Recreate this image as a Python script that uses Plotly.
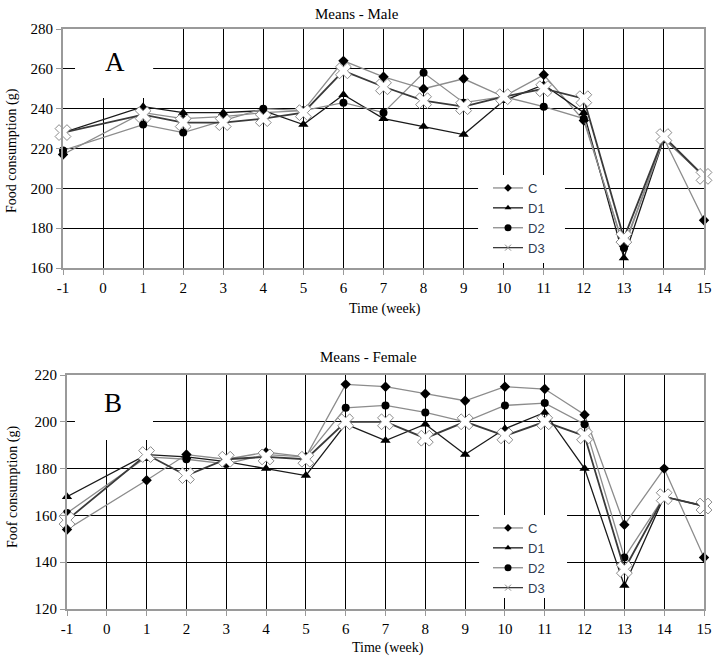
import plotly.graph_objects as go

# ---------------- data ----------------
weeks = [-1, 1, 2, 3, 4, 5, 6, 7, 8, 9, 10, 11, 12, 13, 14, 15]
week_ticks = list(range(-1, 16))
week_labels = [str(w) for w in week_ticks]
series_names = ["C", "D1", "D2", "D3"]

male_C  = [217, 238, 235, 236, 238, 239, 264, 256, 250, 255, 246, 257, 234, 171, 225, 184]
male_D1 = [228, 241, 238, 238, 239, 232, 247, 235, 231, 227, 244, 252, 238, 165, 225, 206]
male_D2 = [219, 232, 228, 234, 240, 239, 243, 238, 258, 243, 246, 241, 235, 170, 225, 206]
male_D3 = [228, 237, 233, 233, 235, 238, 259, 251, 244, 241, 246, 250, 245, 175, 226, 206]

female_C  = [154, 175, 186, 184, 187, 185, 216, 215, 212, 209, 215, 214, 203, 156, 180, 142]
female_D1 = [168, 186, 185, 183, 180, 177, 199, 192, 199, 186, 197, 204, 180, 130, 168, 164]
female_D2 = [161, 185, 184, 182, 186, 185, 206, 207, 204, 200, 207, 208, 199, 142, 168, 164]
female_D3 = [158, 186, 177, 184, 185, 184, 200, 200, 193, 200, 194, 200, 194, 137, 168, 164]

male_yticks = [160, 180, 200, 220, 240, 260, 280]
female_yticks = [120, 140, 160, 180, 200, 220]

# ---------------- styles ----------------
FONT = "Liberation Serif"
styles = {
    "C":  dict(line=dict(color="#8c8c8c", width=1.3),
               marker=dict(symbol="diamond", size=8, color="black")),
    "D1": dict(line=dict(color="#1a1a1a", width=1.3),
               marker=dict(symbol="triangle-up", size=9, color="black")),
    "D2": dict(line=dict(color="#8c8c8c", width=1.3),
               marker=dict(symbol="circle", size=8, color="black")),
    "D3": dict(line=dict(color="#3a3a3a", width=1.8),
               marker=dict(symbol="x", size=14, color="white",
                           line=dict(color="#8a8a8a", width=1))),
}
legend_markers = {
    "C":  dict(symbol="diamond", size=6, color="black"),
    "D1": dict(symbol="triangle-up", size=6, color="black"),
    "D2": dict(symbol="circle", size=7, color="black"),
    "D3": dict(symbol="x-thin", size=6, color="#8a8a8a", line=dict(color="#8a8a8a", width=1)),
}

fig = go.Figure()

male = [male_C, male_D1, male_D2, male_D3]
female = [female_C, female_D1, female_D2, female_D3]

for name, vals in zip(series_names, male):
    st = styles[name]
    fig.add_trace(go.Scatter(x=weeks, y=vals, mode="lines+markers", name=name,
                             line=st["line"], marker=st["marker"], showlegend=False,
                             xaxis="x", yaxis="y", cliponaxis=False))
for name, vals in zip(series_names, female):
    st = styles[name]
    fig.add_trace(go.Scatter(x=weeks, y=vals, mode="lines+markers", name=name,
                             line=st["line"], marker=st["marker"], showlegend=False,
                             xaxis="x2", yaxis="y2", cliponaxis=False))

# legend-only entries (small symbols as in reference)
for lg, xa, ya in [("legend", "x", "y"), ("legend2", "x2", "y2")]:
    for name in series_names:
        fig.add_trace(go.Scatter(x=[None], y=[None], mode="lines+markers", name=name,
                                 line=dict(color=styles[name]["line"]["color"], width=1.3),
                                 marker=legend_markers[name], legend=lg,
                                 xaxis=xa, yaxis=ya))

W, H = 717, 663
def px(x): return x / W
def py(y): return 1 - y / H

axis_common = dict(
    showgrid=True, gridcolor="black", gridwidth=1.3,
    showline=True, linecolor="#9a9a9a", linewidth=2, mirror=True,
    ticks="outside", ticklen=5, tickcolor="#9a9a9a", tickwidth=1,
    tickfont=dict(family=FONT, size=15, color="black"),
    zeroline=False, automargin=False,
)

legend_font = dict(family="Liberation Sans", size=13, color="#2f3b4f")

def white_box(xr, yr, x0, x1, y0, y1):
    return dict(type="rect", xref=xr, yref=yr, x0=x0, x1=x1, y0=y0, y1=y1,
                fillcolor="white", line=dict(width=0), layer="between")

def label(text, x, y, size, angle=0):
    return dict(text=text, x=px(x), y=py(y), xref="paper", yref="paper",
                xanchor="center", yanchor="middle", showarrow=False,
                textangle=angle, font=dict(size=size))

fig.update_layout(
    width=W, height=H,
    margin=dict(l=0, r=0, t=0, b=0, autoexpand=False),
    paper_bgcolor="white", plot_bgcolor="white",
    font=dict(family=FONT, color="black"),
    xaxis=dict(axis_common, domain=[px(63), px(704)], range=[-1, 15],
               tickvals=week_ticks, ticktext=week_labels, anchor="y"),
    yaxis=dict(axis_common, domain=[py(268), py(29)], range=[160, 280],
               tickvals=male_yticks, anchor="x"),
    xaxis2=dict(axis_common, domain=[px(67), px(704)], range=[-1, 15],
                tickvals=week_ticks, ticktext=week_labels, anchor="y2"),
    yaxis2=dict(axis_common, domain=[py(609), py(375)], range=[120, 220],
                tickvals=female_yticks, anchor="x2"),
    legend=dict(x=px(488), y=py(173), xanchor="left", yanchor="top",
                bgcolor="rgba(255,255,255,0)", borderwidth=0, font=legend_font,
                tracegroupgap=0, itemwidth=30),
    legend2=dict(x=px(488), y=py(513), xanchor="left", yanchor="top",
                 bgcolor="rgba(255,255,255,0)", borderwidth=0, font=legend_font,
                 tracegroupgap=0, itemwidth=30),
    shapes=[
        white_box("x", "y", -0.7, 1.25, 245.4, 280),
        white_box("x2", "y2", -0.8, 1.16, 192.2, 220),
        white_box("x", "y", 9.36, 11.53, 162.5, 206.7),
        white_box("x2", "y2", 9.35, 11.56, 124.7, 160.2),
    ],
    annotations=[
        label("Means - Male", 357, 14, 15),
        label("Time (week)", 385, 309, 14),
        label("Food consumption (g)", 12, 151, 14, -90),
        label("A", 115, 62, 27),
        label("Means - Female", 369, 357, 15),
        label("Time (week)", 388, 648, 14),
        label("Foof consumption (g)", 13, 487, 14, -90),
        label("B", 113, 403, 27),
    ],
)

# remove the browser's default 8px page margin so the figure fills the window
fig.write_html("out.html",
               config={"displayModeBar": False},
               post_script="document.body.style.margin='0px';document.body.style.overflow='hidden';")
